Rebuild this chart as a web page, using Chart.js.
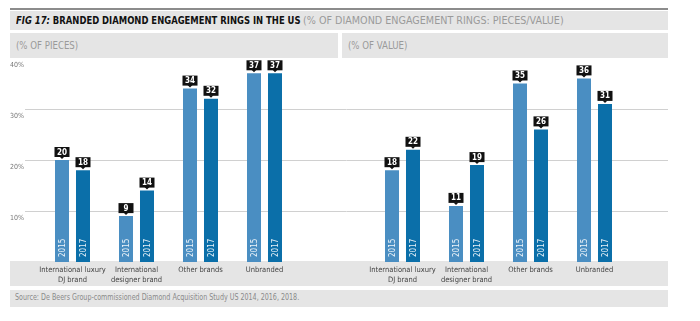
<!DOCTYPE html>
<html>
<head>
<meta charset="utf-8">
<script src="https://cdn.jsdelivr.net/npm/chart.js@4"></script>
<style>
  body { margin: 0; background: #fff; }
  #page { position: relative; width: 700px; height: 321px; overflow: hidden; font-family: "DejaVu Sans Condensed", "Liberation Sans", sans-serif; }
  .band { position: absolute; background: #e5e5e5; }
  .txt { position: absolute; white-space: nowrap; transform-origin: left center; }
  canvas { position: absolute; left: 0; top: 0; }
</style>
</head>
<body>
<div id="page">
  <div style="position:absolute;left:10px;top:8px;width:658px;height:2px;background:#8c8c8c"></div>
  <div class="band" style="left:10px;top:11px;width:658px;height:19px"></div>
  <div class="txt" style="left:16px;top:14px;font-size:11px;line-height:13px;color:#111;font-weight:bold;transform:scaleX(0.853)">
    <i>FIG 17:</i> BRANDED DIAMOND ENGAGEMENT RINGS IN THE US
  </div>
  <div class="txt" style="left:303px;top:14px;font-size:11px;line-height:13px;color:#9a9a9a;transform:scaleX(0.97)">(% OF DIAMOND ENGAGEMENT RINGS: PIECES/VALUE)</div>
  <div class="band" style="left:10px;top:33px;width:328px;height:25px"></div>
  <div class="band" style="left:342px;top:33px;width:326px;height:25px"></div>
  <div class="txt" style="left:16px;top:39px;font-size:11px;line-height:13px;color:#9a9a9a;transform:scaleX(0.87)">(% OF PIECES)</div>
  <div class="txt" style="left:348px;top:39px;font-size:11px;line-height:13px;color:#9a9a9a;transform:scaleX(0.87)">(% OF VALUE)</div>
  <div class="band" style="left:10px;top:261px;width:658px;height:25px"></div>
  <div class="band" style="left:10px;top:290px;width:658px;height:17px"></div>
  <div class="txt" style="left:15px;top:293px;font-size:8px;line-height:10px;color:#8a8a8a;transform:scaleX(0.885)">Source: De Beers Group-commissioned Diamond Acquisition Study US 2014, 2016, 2018.</div>
  <canvas id="pieces" width="700" height="321"></canvas>
  <canvas id="value" width="700" height="321"></canvas>
</div>
<script>
const categories = [["International luxury", "DJ brand"], ["International", "designer brand"], "Other brands", "Unbranded"];
const years = ["2015", "2017"];
const pieces2015 = [20, 9, 34, 37];
const pieces2017 = [18, 14, 32, 37];
const value2015 = [18, 11, 35, 36];
const value2017 = [22, 19, 26, 31];
const yTicks = [10, 20, 30, 40];

const colors = ["#4a8ec2", "#0b6fa9"];
const font = "'DejaVu Sans Condensed', 'Liberation Sans', sans-serif";

// gridlines run under both panels, so the left chart draws them full width
const gridPlugin = {
	id: "grid",
	beforeDatasetsDraw(chart) {
		const ctx = chart.ctx;
		const y = chart.scales.y;
		ctx.save();
		ctx.strokeStyle = "#d0d0d0";
		ctx.lineWidth = 1;
		ctx.fillStyle = "#777";
		ctx.font = "7px " + font;
		ctx.textBaseline = "top";
		yTicks.forEach((v) => {
			const py = Math.round(y.getPixelForValue(v)) + 0.5;
			if (v < 40) {
				ctx.beginPath();
				ctx.moveTo(25, py);
				ctx.lineTo(668, py);
				ctx.stroke();
			}
			ctx.fillText(v + "%", 10, py + 3);
		});
		ctx.restore();
	},
};

// black value tags above the bars, years written up the bar foot
const tagPlugin = {
	id: "tags",
	afterDatasetsDraw(chart) {
		const ctx = chart.ctx;
		ctx.save();
		chart.data.datasets.forEach((ds, i) => {
			chart.getDatasetMeta(i).data.forEach((bar, j) => {
				const x = bar.x;
				const top = bar.y;
				ctx.fillStyle = "#111";
				ctx.fillRect(x - 7.5, top - 13, 15, 10);
				ctx.beginPath();
				ctx.moveTo(x - 2.5, top - 3.5);
				ctx.lineTo(x + 2.5, top - 3.5);
				ctx.lineTo(x, top - 1);
				ctx.closePath();
				ctx.fill();
				ctx.fillStyle = "#fff";
				ctx.font = "bold 8px " + font;
				ctx.textAlign = "center";
				ctx.textBaseline = "middle";
				ctx.fillText(ds.data[j], x, top - 7.5);

				ctx.save();
				ctx.translate(x, bar.base - 5);
				ctx.rotate(-Math.PI / 2);
				ctx.font = "8px " + font;
				ctx.textAlign = "left";
				ctx.fillStyle = "rgba(255,255,255,0.9)";
				ctx.fillText(ds.label, 0, 0.5);
				ctx.restore();
			});
		});
		ctx.restore();
	},
};

function makeChart(id, a, b, left, plugins) {
	return new Chart(document.getElementById(id), {
		type: "bar",
		data: {
			labels: categories,
			datasets: [
				{ label: years[0], data: a, backgroundColor: colors[0] },
				{ label: years[1], data: b, backgroundColor: colors[1] },
			],
		},
		options: {
			responsive: false,
			animation: false,
			categoryPercentage: 0.65625,
			barPercentage: 0.6667,
			layout: { padding: { left: left, right: 700 - left - 256, top: 58, bottom: 33 } },
			plugins: { legend: { display: false }, tooltip: { enabled: false } },
			scales: {
				y: { display: false, min: 0, max: 40 },
				x: {
					grid: { display: false, drawTicks: false },
					border: { display: false },
					ticks: { color: "#444", font: { family: font, size: 7.5, lineHeight: 1.3 }, padding: 3, maxRotation: 0, autoSkip: false },
					afterFit: (scale) => { scale.height = 26; },
				},
			},
		},
		plugins: plugins,
	});
}

makeChart("pieces", pieces2015, pieces2017, 40.5, [gridPlugin, tagPlugin]);
makeChart("value", value2015, value2017, 370.5, [tagPlugin]);
</script>
</body>
</html>
